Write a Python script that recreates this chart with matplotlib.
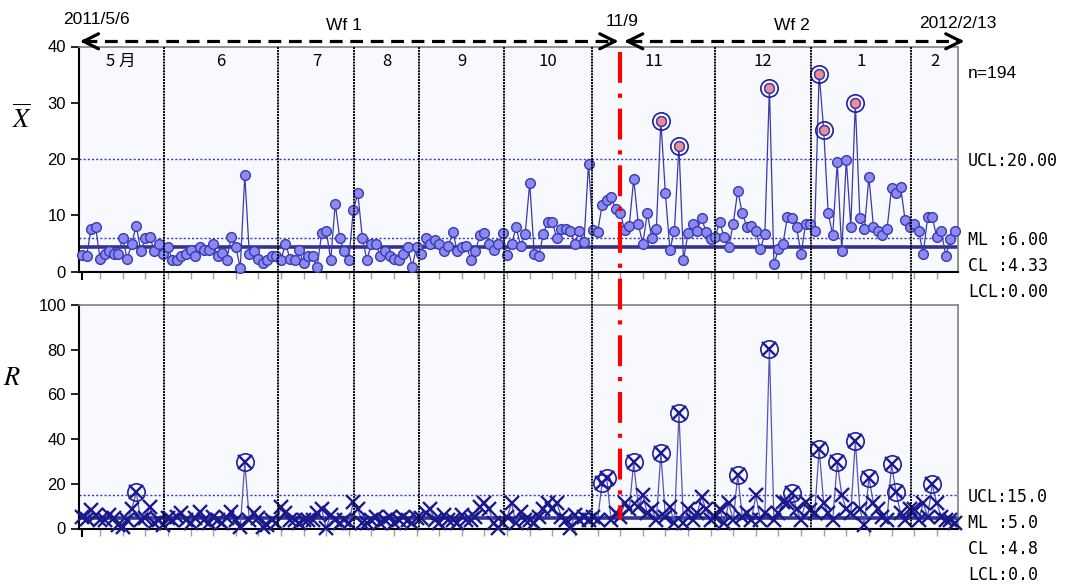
import matplotlib
matplotlib.use('Agg')
import matplotlib.pyplot as plt
from matplotlib.lines import Line2D
from matplotlib.transforms import blended_transform_factory

plt.rcParams['font.family'] = ['Liberation Sans', 'Noto Sans CJK JP', 'DejaVu Sans']
plt.rcParams['mathtext.fontset'] = 'stix'

# --- data ---
xbar = [2.9, 2.7, 7.5, 8.0, 2.3, 3.1, 3.7, 3.1, 3.1, 5.9,
        2.3, 5.0, 8.2, 3.7, 5.9, 6.1, 3.7, 5.0, 3.1, 4.3,
        2.1, 2.0, 2.7, 3.1, 3.9, 2.8, 4.3, 3.9, 3.9, 5.0,
        2.7, 3.3, 2.1, 6.1, 4.4, 0.7, 17.2, 3.1, 3.7, 2.2,
        1.5, 2.1, 2.8, 2.8, 2.1, 5.0, 2.3, 2.1, 3.9, 1.5,
        2.7, 2.7, 0.9, 6.8, 7.3, 2.1, 12.1, 5.9, 3.7, 2.1,
        11.0, 13.9, 5.9, 2.1, 5.0, 5.0, 2.7, 3.7, 2.7, 2.2,
        2.1, 3.1, 4.4, 0.9, 4.4, 3.1, 5.9, 4.9, 5.7, 4.9,
        3.6, 4.5, 7.0, 3.6, 4.4, 4.5, 2.1, 3.7, 6.5, 6.8,
        5.0, 3.9, 5.0, 6.8, 2.9, 4.9, 7.9, 4.5, 6.7, 15.8,
        3.1, 2.7, 6.7, 8.9, 8.9, 5.9, 7.5, 7.5, 7.3, 5.0,
        7.3, 5.2, 19.2, 7.4, 7.0, 11.8, 12.7, 13.3, 11.1, 10.5,
        7.4, 8.2, 16.5, 8.5, 4.9, 10.4, 5.9, 7.5, 26.8, 13.9,
        3.9, 7.3, 22.4, 2.1, 6.8, 8.5, 7.3, 9.6, 7.0, 5.8,
        6.1, 8.9, 6.1, 4.4, 8.5, 14.4, 10.4, 8.0, 8.2, 7.3,
        4.0, 6.7, 32.7, 1.3, 4.0, 5.0, 9.8, 9.6, 8.0, 3.1,
        8.5, 8.5, 7.3, 35.2, 25.2, 10.4, 6.5, 19.4, 3.7, 19.9,
        8.0, 30.0, 9.6, 7.5, 16.9, 8.0, 7.3, 6.5, 7.5, 14.8,
        13.9, 15.1, 9.2, 7.9, 8.5, 7.3, 3.1, 9.8, 9.8, 6.1,
        7.3, 2.8, 5.8, 7.3]

r_vals = [5.3, 4.1, 8.3, 6.1, 3.8, 3.8, 6.1, 4.5, 1.6, 0.5,
          3.8, 8.6, 16.2, 3.8, 4.5, 9.5, 2.3, 3.8, 1.6, 4.5,
          3.8, 5.3, 7.0, 3.8, 2.3, 4.5, 7.5, 3.8, 2.3, 5.3,
          3.8, 2.3, 4.5, 7.5, 3.8, 0.5, 29.6, 3.8, 7.0, 4.5,
          0.5, 1.6, 3.8, 2.3, 9.5, 6.8, 3.8, 4.0, 2.3, 3.8,
          3.8, 3.8, 6.8, 8.6, 0.3, 6.1, 3.8, 2.3, 3.8, 2.3,
          12.0, 8.6, 2.3, 2.3, 3.8, 5.3, 2.3, 3.8, 5.3, 2.3,
          3.8, 5.3, 3.8, 2.3, 4.5, 4.5, 6.8, 8.6, 3.8, 2.3,
          6.1, 3.8, 3.8, 2.3, 6.1, 3.8, 3.8, 5.3, 9.8, 11.3,
          8.6, 2.3, 0.3, 2.3, 5.3, 11.3, 2.3, 7.5, 3.8, 3.8,
          2.3, 5.3, 8.6, 11.3, 8.6, 11.3, 5.3, 3.8, 0.3, 6.1,
          3.8, 5.3, 3.8, 5.3, 3.8, 20.2, 22.8, 3.8, 6.8, 5.3,
          11.3, 8.6, 29.6, 9.8, 14.9, 6.8, 8.6, 3.8, 33.7, 5.3,
          9.8, 2.3, 51.6, 2.3, 8.6, 3.8, 6.8, 14.0, 8.6, 3.8,
          5.3, 8.6, 2.3, 11.3, 3.8, 24.0, 5.3, 6.8, 3.8, 14.9,
          3.8, 6.8, 80.4, 3.8, 6.8, 12.0, 11.3, 16.0, 8.6, 3.8,
          12.0, 8.3, 6.8, 35.5, 11.3, 6.8, 3.8, 29.6, 14.9, 8.6,
          6.8, 39.3, 8.6, 1.6, 22.8, 11.3, 8.6, 5.3, 3.8, 28.7,
          16.2, 6.8, 3.8, 8.6, 8.6, 3.8, 11.3, 5.3, 19.8, 11.3,
          5.3, 3.8, 4.0, 2.3]

month_labels = ['5 月', '6', '7', '8', '9', '10', '11', '12', '1', '2']
month_bounds = [18.1, 43.4, 60.2, 74.6, 93.4, 112.8, 140.0, 161.3, 183.3]
change_idx = 118.9

x_ucl, x_ml, x_cl, x_lcl = 20.0, 6.0, 4.33, 0.0
r_ucl, r_ml, r_cl, r_lcl = 15.0, 5.0, 4.8, 0.0

W, H = 1066, 586
xlim = (-0.77, 193.7)

fig = plt.figure(figsize=(W / 100, H / 100), dpi=100)
ax1 = fig.add_axes([78.5 / W, 1 - 271.7 / H, 879.5 / W, 225.2 / H])
ax2 = fig.add_axes([78.5 / W, 1 - 528.5 / H, 879.5 / W, 223.5 / H])

idx = list(range(len(xbar)))
tick_pos = list(range(4, len(xbar), 5))

for ax, ylim, yticks in [(ax1, (0, 40), [0, 10, 20, 30, 40]),
                         (ax2, (0, 100), [0, 20, 40, 60, 80, 100])]:
    ax.set_facecolor('#F8F8FF')
    ax.set_xlim(*xlim)
    ax.set_ylim(*ylim)
    ax.set_yticks(yticks)
    ax.tick_params(axis='y', direction='out', length=6, width=1.2, labelsize=12, pad=3)
    ax.set_xticks([0])
    ax.set_xticklabels([])
    ax.set_xticks(tick_pos, minor=True)
    ax.tick_params(axis='x', which='major', direction='out', length=6, width=1.5, color='black')
    ax.tick_params(axis='x', which='minor', direction='out', length=5, width=1, color='#A0A0A0')
    for s in ['left', 'bottom']:
        ax.spines[s].set_color('black')
        ax.spines[s].set_linewidth(1.5)
    for s in ['top', 'right']:
        ax.spines[s].set_color('#808080')
        ax.spines[s].set_linewidth(1.2)

# --- X-bar chart ---
ax1.axhline(x_ucl, color='#3A3AB0', lw=1, ls=(0, (1.5, 1.5)))
ax1.axhline(x_ml, color='#3A3AB0', lw=1, ls=(0, (1.5, 1.5)))
ax1.axhline(x_cl, color='#33338F', lw=2.6)
ax1.plot(idx, xbar, color='#3A3AA8', lw=0.9, marker='o', ms=7,
         mfc='#8A8AF2', mec='#3A3AB0', mew=1, clip_on=False, zorder=3)
ox = [i for i in idx if xbar[i] > x_ucl]
ax1.plot(ox, [xbar[i] for i in ox], ls='none', marker='o', ms=7,
         mfc='#EE8C98', mec='#3A3AB0', mew=1, zorder=4)
ax1.plot(ox, [xbar[i] for i in ox], ls='none', marker='o', ms=12.5,
         mfc='none', mec='#2020A0', mew=1.2, zorder=4)

# --- R chart ---
ax2.axhline(r_ucl, color='#3A3AB0', lw=1, ls=(0, (1.5, 1.5)))
ax2.axhline(r_cl, color='#33338F', lw=2.6)
ax2.axhline(r_ml, color='#3A3AB0', lw=1, ls=(0, (1.5, 1.5)))
ax2.plot(idx, r_vals, color='#5555B5', lw=0.9, zorder=3)
ax2.plot(idx, r_vals, ls='none', marker='x', ms=10, mew=1.7,
         color='#1A1A8C', clip_on=False, zorder=4)
orr = [i for i in idx if r_vals[i] > r_ucl]
ax2.plot(orr, [r_vals[i] for i in orr], ls='none', marker='o', ms=12.5,
         mfc='none', mec='#2020A0', mew=1.2, zorder=4)

# --- month separators and change point, across both panels ---
trans = blended_transform_factory(ax1.transData, fig.transFigure)
y_top = 1 - 46.5 / H
y_bot = 1 - 528.5 / H
for b in month_bounds:
    fig.add_artist(Line2D([b, b], [y_top, y_bot], transform=trans, color='black',
                          lw=1.4, ls=(0, (1, 0.5)), zorder=5))
fig.add_artist(Line2D([change_idx, change_idx], [1 - 52 / H, 1 - 520 / H], transform=trans,
                      color='#FF0000', lw=3, ls=(0, (7.4, 2.6, 1, 2.6)), zorder=6))

edges = [xlim[0]] + month_bounds + [xlim[1]]
for k, lab in enumerate(month_labels):
    ax1.text((edges[k] + edges[k + 1]) / 2, 37.3, lab, ha='center', va='center',
             fontsize=12, family=['Noto Sans CJK JP', 'DejaVu Sans'])

# --- Wf arrows ---
y_arr = 1 - 41.3 / H
spans = [(-0.45, change_idx - 0.3), (change_idx + 1.0, 195.1)]
for a, b in spans:
    fig.add_artist(Line2D([a + 1, b - 1], [y_arr, y_arr], transform=trans, color='black',
                          lw=2.3, ls=(0, (4, 2.4))))
    ax1.annotate('', xy=(a, y_arr), xytext=(a + 1.5, y_arr), xycoords=trans, textcoords=trans,
                 arrowprops=dict(arrowstyle='->', lw=2.3, color='black', mutation_scale=27,
                                 shrinkA=0, shrinkB=0), annotation_clip=False)
    ax1.annotate('', xy=(b, y_arr), xytext=(b - 1.5, y_arr), xycoords=trans, textcoords=trans,
                 arrowprops=dict(arrowstyle='->', lw=2.3, color='black', mutation_scale=27,
                                 shrinkA=0, shrinkB=0), annotation_clip=False)

fig.text(96 / W, 1 - 20 / H, '2011/5/6', ha='center', va='center', fontsize=12.5)
fig.text(344 / W, 1 - 26 / H, 'Wf 1', ha='center', va='center', fontsize=12.5)
fig.text(622 / W, 1 - 21 / H, '11/9', ha='center', va='center', fontsize=12.5)
fig.text(792 / W, 1 - 26 / H, 'Wf 2', ha='center', va='center', fontsize=12.5)
fig.text(958 / W, 1 - 24 / H, '2012/2/13', ha='center', va='center', fontsize=12.5)

# --- axis titles ---
fig.text(22 / W, 1 - 118 / H, r'$\overline{X}$', ha='center', va='center', fontsize=19)
fig.text(12 / W, 1 - 378 / H, r'$R$', ha='center', va='center', fontsize=19)

# --- limit labels ---
fig.text(968 / W, 1 - 74 / H, 'n=194', ha='left', va='center', fontsize=12.5)
lx = 968 / W
mono = 'DejaVu Sans Mono'
for y, s in [(161, 'UCL:%.2f' % x_ucl), (240, 'ML :%.2f' % x_ml),
             (266, 'CL :%.2f' % x_cl), (292, 'LCL:%.2f' % x_lcl),
             (497, 'UCL:%.1f' % r_ucl), (523, 'ML :%.1f' % r_ml),
             (549, 'CL :%.1f' % r_cl), (575, 'LCL:%.1f' % r_lcl)]:
    fig.text(lx, 1 - y / H, s, ha='left', va='center', fontsize=12, family=mono)

fig.savefig('out.png', dpi=100)
